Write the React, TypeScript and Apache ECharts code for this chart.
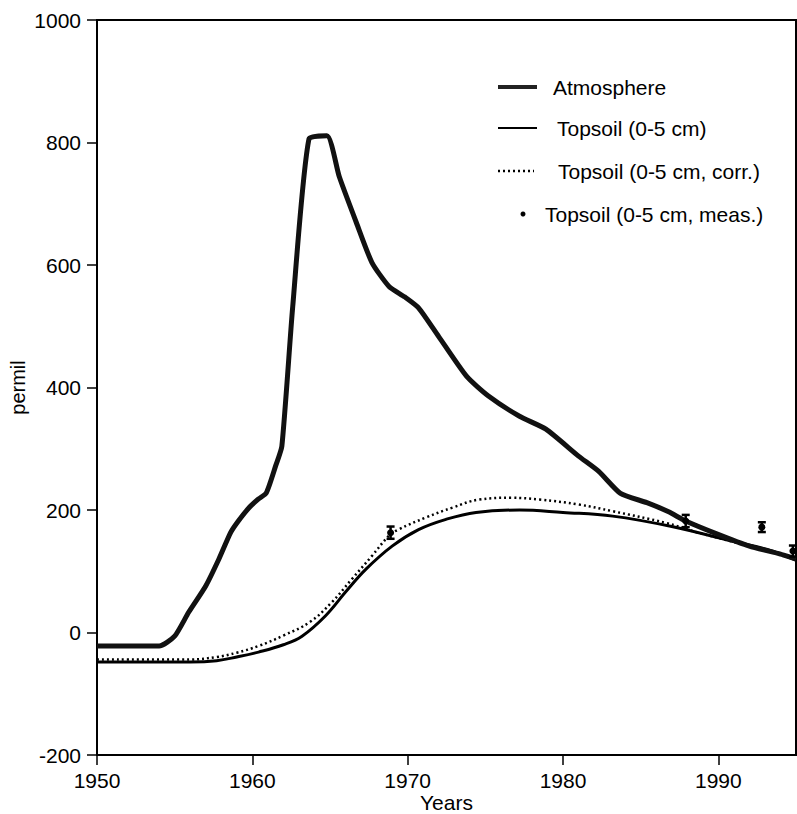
import React, { useEffect, useRef } from "react";
import * as echarts from "echarts";

const atmosphere: number[][] = [
  [1950, -22], [1954, -22], [1955, -6], [1955.9, 33], [1957, 76], [1957.85, 120],
  [1958.6, 163], [1959.1, 182], [1959.8, 204], [1960.4, 218], [1960.9, 228],
  [1961.5, 272], [1961.9, 304], [1962.6, 532], [1963.65, 806], [1964.8, 811],
  [1965.6, 744], [1966.7, 669], [1967.7, 604], [1968.8, 565], [1969.8, 548],
  [1970.7, 530], [1972, 483], [1973.8, 418], [1975.2, 386], [1977.2, 353],
  [1978.9, 332], [1981, 288], [1982.3, 263], [1983.7, 227], [1985.4, 212],
  [1986.8, 197], [1987.9, 182], [1989.9, 161], [1992, 141], [1994, 128], [1995, 120],
];

const topsoil: number[][] = [
  [1950, -48], [1956, -48], [1957.7, -46], [1959, -40], [1960.4, -32], [1962, -20],
  [1963.2, -6], [1964.7, 27], [1966, 66], [1967.3, 103], [1969, 141], [1970.7, 168],
  [1972.5, 185], [1974.4, 196], [1977.2, 200], [1980, 196], [1983.2, 190],
  [1987, 173], [1990.9, 149], [1993.1, 136], [1995, 118],
];

const topsoilCorr: number[][] = [
  [1950, -44], [1956, -44], [1957.7, -40], [1959, -33], [1960.4, -22], [1962, -5],
  [1963.7, 17], [1965.1, 49], [1966.4, 87], [1967.7, 125], [1968.8, 158],
  [1969.4, 168], [1971.2, 188], [1972.9, 204], [1974.6, 217], [1976.7, 220],
  [1978.5, 217], [1981, 209], [1983.2, 198], [1986.6, 179], [1988.7, 163],
  [1991, 148], [1993, 136], [1995, 120],
];

// [year, value, error]
const topsoilMeas: number[][] = [
  [1968.9, 163, 10], [1987.9, 182, 10], [1992.8, 172, 8], [1994.8, 133, 9],
];

const xTicks = { min: 1950, max: 1995, interval: 10 };
const yTicks = { min: -200, max: 1000, interval: 200 };

const legendLabels = [
  "Atmosphere",
  "Topsoil (0-5 cm)",
  "Topsoil (0-5 cm, corr.)",
  "Topsoil (0-5 cm, meas.)",
];

const FONT = "'Liberation Sans', Arial, Helvetica, sans-serif";

export default function App() {
  const ref = useRef<HTMLDivElement>(null);
  useEffect(() => {
    if (!ref.current) return;
    const chart = echarts.init(ref.current, null, { renderer: "svg" });
    const textBase = { fontFamily: FONT, fontSize: 21, fill: "#000" };
    chart.setOption({
      animation: false,
      backgroundColor: "#fff",
      textStyle: { fontFamily: FONT, color: "#000" },
      grid: {
        left: 97, right: 1, top: 20, bottom: 59,
        containLabel: false, outerBoundsMode: "none",
        show: true, borderColor: "#000", borderWidth: 2, backgroundColor: "transparent",
      },
      xAxis: {
        type: "value",
        min: xTicks.min, max: xTicks.max, interval: xTicks.interval,
        name: "Years", nameLocation: "middle", nameGap: 36, nameMoveOverlap: false,
        nameTextStyle: { fontFamily: FONT, fontSize: 21, lineHeight: 22, color: "#000" },
        axisLine: { onZero: false, lineStyle: { color: "#000", width: 2 } },
        axisTick: { show: true, inside: false, length: 10, lineStyle: { color: "#000", width: 1.5 } },
        axisLabel: {
          fontFamily: FONT, fontSize: 21, color: "#000", margin: 15,
          showMaxLabel: false,
          formatter: (v: number) => String(v),
        },
        splitLine: { show: false },
      },
      yAxis: {
        type: "value",
        min: yTicks.min, max: yTicks.max, interval: yTicks.interval,
        name: "permil", nameLocation: "middle", nameGap: 69, nameRotate: 90, nameMoveOverlap: false,
        nameTextStyle: { fontFamily: FONT, fontSize: 20, color: "#000" },
        axisLine: { show: true, onZero: false, lineStyle: { color: "#000", width: 2 } },
        axisTick: { show: true, inside: false, length: 10, lineStyle: { color: "#000", width: 1.5 } },
        axisLabel: {
          fontFamily: FONT, fontSize: 21, color: "#000", margin: 16,
          formatter: (v: number) => String(v),
        },
        splitLine: { show: false },
      },
      series: [
        {
          name: legendLabels[0], type: "line", data: atmosphere, showSymbol: false,
          smooth: 0.2, lineStyle: { color: "#111", width: 5 }, z: 3,
        },
        {
          name: legendLabels[1], type: "line", data: topsoil, showSymbol: false,
          smooth: 0.4, lineStyle: { color: "#000", width: 3 }, z: 2,
        },
        {
          name: legendLabels[2], type: "line", data: topsoilCorr, showSymbol: false,
          smooth: 0.4, lineStyle: { color: "#000", width: 2.5, type: [2, 3] }, z: 2,
        },
        {
          name: legendLabels[3], type: "custom", data: topsoilMeas, z: 4,
          renderItem: (params: any, api: any) => {
            const x = api.value(0), y = api.value(1), e = api.value(2);
            const c = api.coord([x, y]);
            const t = api.coord([x, y + e]);
            const b = api.coord([x, y - e]);
            const hw = 4;
            const st = { stroke: "#000", lineWidth: 2.5 };
            return {
              type: "group",
              children: [
                { type: "line", shape: { x1: c[0], y1: t[1], x2: c[0], y2: b[1] }, style: st },
                { type: "line", shape: { x1: c[0] - hw, y1: t[1], x2: c[0] + hw, y2: t[1] }, style: st },
                { type: "line", shape: { x1: c[0] - hw, y1: b[1], x2: c[0] + hw, y2: b[1] }, style: st },
                { type: "circle", shape: { cx: c[0], cy: c[1], r: 3.5 }, style: { fill: "#000" } },
              ],
            };
          },
        },
      ],
      graphic: [
        { type: "line", shape: { x1: 498, y1: 87, x2: 537, y2: 87 }, style: { stroke: "#222", lineWidth: 4 } },
        { type: "text", x: 553, y: 87, style: { ...textBase, text: legendLabels[0], verticalAlign: "middle" } },
        { type: "line", shape: { x1: 498, y1: 128, x2: 537, y2: 128 }, style: { stroke: "#000", lineWidth: 2 } },
        { type: "text", x: 557, y: 128, style: { ...textBase, text: legendLabels[1], verticalAlign: "middle" } },
        { type: "line", shape: { x1: 498, y1: 171, x2: 534, y2: 171 }, style: { stroke: "#000", lineWidth: 2.5, lineDash: [2, 3] } },
        { type: "text", x: 558, y: 171, style: { ...textBase, text: legendLabels[2], verticalAlign: "middle" } },
        { type: "circle", shape: { cx: 523, cy: 214, r: 2.5 }, style: { fill: "#000" } },
        { type: "text", x: 545, y: 214, style: { ...textBase, text: legendLabels[3], verticalAlign: "middle" } },
      ],
    });
    return () => chart.dispose();
  }, []);
  return (
    <div
      ref={ref}
      style={{ position: "absolute", left: 0, top: 0, width: 797, height: 814 }}
    />
  );
}
